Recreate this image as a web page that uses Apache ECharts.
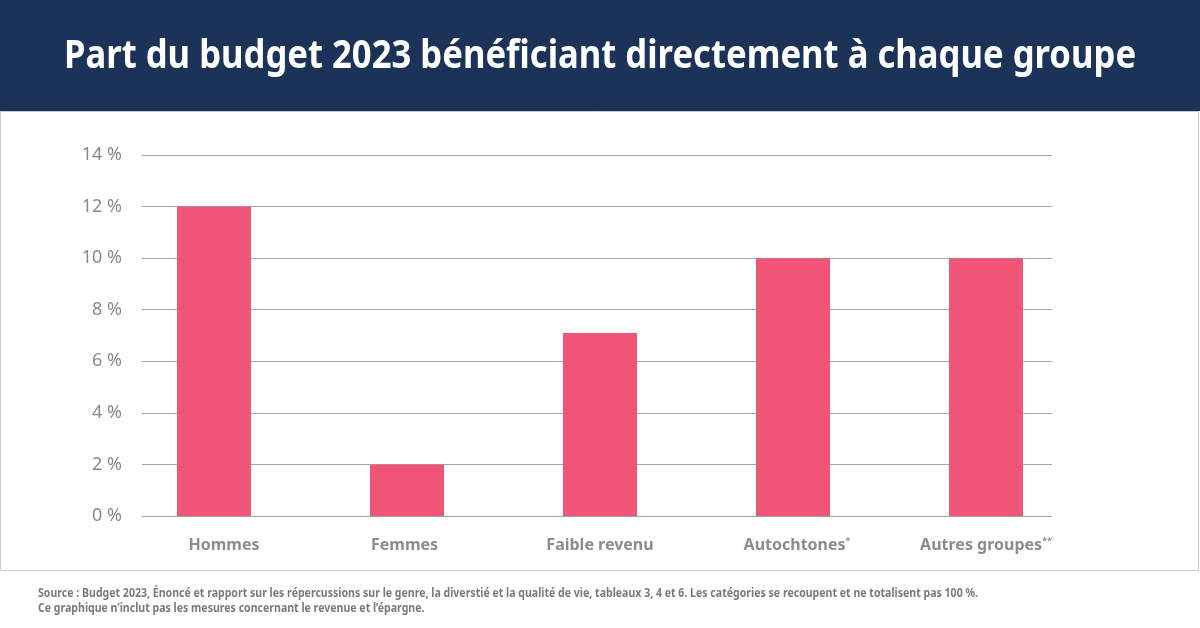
<!DOCTYPE html>
<html><head><meta charset="utf-8">
<script src="https://cdn.jsdelivr.net/npm/echarts@6/dist/echarts.min.js"></script>
<style>html,body{margin:0;padding:0;background:#fff}#c{width:1200px;height:628px}</style>
</head><body><div id="c"></div>
<script>
const titleText = 'Part du budget 2023 bénéficiant directement à chaque groupe';
const categories = ['Hommes', 'Femmes', 'Faible revenu', 'Autochtones', 'Autres groupes'];
const superscripts = ['', '', '', '*', '**'];
const shares = [12.0, 2.0, 7.1, 10.0, 10.0];
const yTicks = [0, 2, 4, 6, 8, 10, 12, 14];
const footnotes = [
  'Source : Budget 2023, Énoncé et rapport sur les répercussions sur le genre, la diverstié et la qualité de vie, tableaux 3, 4 et 6. Les catégories se recoupent et ne totalisent pas 100 %.',
  'Ce graphique n\u2019inclut pas les mesures concernant le revenue et l\u2019épargne.'
];

const chart = echarts.init(document.getElementById('c'), null, {renderer: 'canvas'});
const font = '"Noto Sans", sans-serif';
const yMax = yTicks[yTicks.length - 1];
const labelPads = [[0, 0, 0, 20], [0, 5, 0, 0], [0, 0, 0, 0], [0, 0, 0, 8], [0, 0, 0, 0]];
const labelData = categories.map((c, i) => ({
  value: superscripts[i] ? c + '{s|' + superscripts[i] + '}' : c,
  textStyle: {padding: labelPads[i]}
}));

chart.setOption({
  backgroundColor: '#ffffff',
  animation: false,
  graphic: [
    {type: 'rect', shape: {x: 0, y: 0, width: 1200, height: 111}, style: {fill: '#1b3358'}, z: 0},
    {type: 'rect', shape: {x: 0.5, y: 111.5, width: 1198, height: 459}, style: {fill: 'none', stroke: '#cccccc', lineWidth: 1}, z: 0},
    {type: 'text', x: 600, y: 57, scaleX: 0.866, z: 5,
     style: {text: titleText, fill: '#ffffff', font: 'bold 40px ' + font, textAlign: 'center', textVerticalAlign: 'middle'}},
    {type: 'text', x: 38, y: 586, scaleX: 0.88, z: 5,
     style: {text: footnotes.join('\n'), fill: '#7a7a7a', font: 'bold 12px ' + font, lineHeight: 15, textAlign: 'left', textVerticalAlign: 'top'}}
  ],
  grid: [
    {left: 142, width: 910, top: 155, height: 361},
    {left: 117.5, width: 965, top: 155, height: 361}
  ],
  xAxis: [
    {gridIndex: 0, type: 'category', data: categories, show: false},
    {gridIndex: 1, type: 'category', data: labelData,
     axisLine: {show: false}, axisTick: {show: false},
     axisLabel: {interval: 0, margin: 21, color: '#8c8c8c', fontSize: 16, fontWeight: 'bold', fontFamily: font,
       rich: {s: {fontSize: 9, fontWeight: 'bold', color: '#8c8c8c', verticalAlign: 'top', padding: [0, 0, 8, 0], fontFamily: font}}}}
  ],
  yAxis: [
    {gridIndex: 0, type: 'value', min: 0, max: yMax, interval: 2,
     axisLine: {show: false}, axisTick: {show: false},
     splitLine: {lineStyle: {color: '#a6a6a6', width: 1}},
     axisLabel: {margin: 20, color: '#8a8a8a', fontSize: 18, fontFamily: font, formatter: v => v + ' %'}},
    {gridIndex: 1, type: 'value', min: 0, max: yMax, interval: 2, show: false, splitLine: {show: false}}
  ],
  series: [
    {type: 'bar', xAxisIndex: 0, yAxisIndex: 0, data: [], silent: true},
    {type: 'bar', xAxisIndex: 1, yAxisIndex: 1, data: shares, barWidth: 74,
     itemStyle: {color: '#f05577'}}
  ]
});
</script></body></html>
